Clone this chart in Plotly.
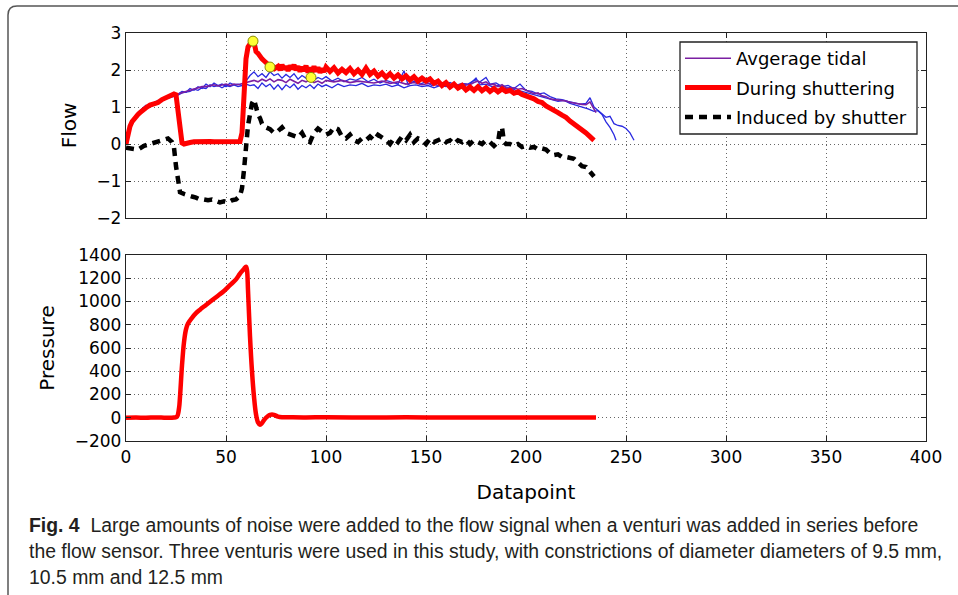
import plotly.graph_objects as go

# ---------------- data ----------------
red_x = [0,1,2,3,4,5,6,7,8,9,10,12,14,16,18,20,22,24,25,26,27,28,29,30,32,34,36,38,40,42,44,46,48,50,52,54,56,57,58,59,60,61,62,63,64,65,66,67,68,69,70,71,72,73,74,75,76,77,78,79,80,81,82,83,84,85,86,87,88,89,90,91,92,93,94,95,96,97,98,99,100,102,104,106,108,110,112,114,116,118,120,122,124,126,128,130,132,134,136,138,140,142,144,146,148,150,152,154,156,158,160,162,164,166,168,170,172,174,176,178,180,182,184,186,188,190,192,194,196,198,200,202,204,206,208,210,212,214,216,218,220,222,224,226,228,230,232,234]
red_y = [0.0,0.3,0.48,0.6,0.68,0.75,0.8,0.85,0.9,0.95,0.98,1.05,1.08,1.12,1.2,1.25,1.3,1.35,1.33,0.9,0.2,0.03,0.0,0.02,0.04,0.06,0.07,0.06,0.06,0.07,0.06,0.06,0.06,0.06,0.06,0.06,0.06,0.07,0.3,1.5,2.3,2.62,2.72,2.78,2.75,2.5,2.45,2.35,2.3,2.25,2.2,2.12,2.08,2.05,2.03,2.05,2.1,2.0,2.14,2.02,2.1,1.98,2.12,2.03,2.14,2.0,2.1,1.96,2.08,1.98,2.12,1.93,2.06,1.94,2.1,1.96,2.07,1.93,2.04,1.95,2.08,1.96,2.06,1.92,2.02,1.93,2.04,1.9,2.0,1.88,2.05,1.88,1.97,1.83,1.92,1.8,1.9,1.78,1.87,1.76,1.84,1.73,1.82,1.7,1.78,1.7,1.76,1.64,1.7,1.58,1.66,1.54,1.62,1.51,1.58,1.46,1.54,1.45,1.55,1.44,1.52,1.42,1.5,1.41,1.49,1.42,1.45,1.37,1.41,1.34,1.31,1.25,1.22,1.15,1.12,1.03,0.98,0.92,0.85,0.78,0.72,0.62,0.55,0.47,0.38,0.3,0.2,0.1]

avg_x = [0,2,4,6,8,10,12,14,16,18,20,22,24,26,28,30,32,34,36,38,40,42,44,46,48,50,52,54,56,58,60,62,64,66,68,70,72,74,76,78,80,82,84,86,88,90,92,94,96,98,100,104,108,112,116,120,124,128,132,136,140,144,148,152,156,160,164,168,172,174,176,178,180,182,184,186,188,190,192,194,196,198,200,202,204,206,208,210,212,214,216,218,220,222,224,226,228,230,232,233,235]
avg_y = [0.0,0.45,0.65,0.8,0.9,0.98,1.05,1.1,1.15,1.2,1.25,1.28,1.32,1.36,1.4,1.42,1.45,1.48,1.5,1.55,1.55,1.58,1.6,1.57,1.6,1.62,1.58,1.62,1.6,1.63,1.65,1.68,1.72,1.68,1.75,1.7,1.76,1.68,1.74,1.72,1.66,1.75,1.7,1.64,1.72,1.68,1.74,1.66,1.7,1.64,1.72,1.68,1.72,1.66,1.7,1.68,1.65,1.7,1.64,1.68,1.62,1.66,1.6,1.64,1.58,1.62,1.58,1.62,1.6,1.66,1.7,1.64,1.68,1.6,1.62,1.55,1.6,1.52,1.5,1.52,1.48,1.5,1.46,1.4,1.36,1.38,1.3,1.28,1.22,1.2,1.19,1.18,1.16,1.13,1.1,1.09,1.07,1.06,1.14,1.04,0.85]

blue1_x = [0,2,4,6,8,10,12,14,16,18,20,22,24,26,28,30,32,34,36,38,40,42,44,46,48,50,52,54,56,58,60,62,64,66,68,70,72,74,76,78,80,82,84,86,88,90,92,94,96,98,100,103,106,109,112,115,118,121,124,127,130,133,136,139,141,144,147,150,153,156,159,162,165,168,171,174,177,180,182,185,188,191,194,197,200,203,206,209,212,215,218,221,224,227,230,232,234,236,238,240,242,244,246,248,250,252,254]
blue1_y = [0.0,0.5,0.7,0.85,0.95,1.05,1.0,1.12,1.18,1.15,1.28,1.3,1.38,1.35,1.42,1.4,1.5,1.45,1.55,1.5,1.62,1.55,1.65,1.58,1.62,1.55,1.65,1.6,1.62,1.58,1.7,1.85,1.95,1.82,1.9,1.8,1.95,1.85,1.9,1.78,1.88,1.8,1.9,1.75,1.85,1.78,1.88,1.72,1.8,1.75,1.82,1.7,1.78,1.68,1.76,1.72,1.8,1.68,1.75,1.65,1.72,1.68,1.62,1.98,1.6,1.7,1.62,1.68,1.58,1.65,1.6,1.66,1.58,1.64,1.62,1.72,1.68,1.8,1.62,1.65,1.55,1.58,1.5,1.62,1.45,1.42,1.35,1.38,1.28,1.22,1.2,1.15,1.12,1.08,1.1,1.25,1.0,0.9,0.82,0.72,0.75,0.55,0.5,0.48,0.42,0.3,0.1]

blue2_x = [0,2,4,6,8,10,12,14,16,18,20,22,24,26,28,30,32,34,36,38,40,42,44,46,48,50,52,54,56,58,60,62,64,66,68,70,72,74,76,78,80,82,84,86,88,90,92,94,96,98,100,103,106,109,112,115,118,121,124,127,130,133,136,139,142,145,148,151,154,157,160,163,166,169,172,175,177,180,183,186,189,192,195,198,201,204,207,210,213,216,219,222,225,228,231,234,236,238,240,242,244,245]
blue2_y = [0.0,0.4,0.62,0.78,0.88,0.95,1.02,1.05,1.12,1.18,1.22,1.25,1.3,1.32,1.38,1.4,1.42,1.48,1.45,1.52,1.5,1.6,1.55,1.58,1.52,1.58,1.55,1.6,1.55,1.58,1.62,1.58,1.6,1.5,1.65,1.55,1.62,1.48,1.6,1.47,1.6,1.52,1.62,1.48,1.58,1.52,1.6,1.5,1.62,1.55,1.6,1.52,1.62,1.55,1.6,1.58,1.64,1.55,1.6,1.58,1.62,1.55,1.6,1.52,1.58,1.6,1.55,1.58,1.52,1.58,1.55,1.6,1.55,1.58,1.62,1.78,1.6,1.62,1.55,1.58,1.5,1.52,1.45,1.42,1.38,1.32,1.3,1.25,1.2,1.15,1.18,1.1,1.05,1.02,0.95,0.88,0.9,0.8,0.6,0.45,0.25,0.1]

ind_x = [0,3,6,9,12,15,18,21,23,24,25,26,27,29,31,33,35,37,39,41,43,45,47,49,51,53,55,57,58,59,60,61,62,63,64,65,66,67,68,69,70,72,74,76,78,80,82,84,86,88,90,92,94,96,98,100,102,104,106,108,110,112,114,116,118,120,122,124,126,128,130,132,134,136,138,140,142,144,146,148,150,152,154,156,158,160,162,164,166,168,170,172,174,176,178,180,182,184,186,187,188,189,190,192,194,196,198,200,202,204,206,208,210,212,214,216,218,220,222,224,226,228,230,232,234]
ind_y = [-0.1,-0.12,-0.15,-0.05,0.0,0.05,0.12,0.15,0.05,-0.1,-0.6,-1.0,-1.3,-1.35,-1.4,-1.42,-1.45,-1.5,-1.5,-1.52,-1.5,-1.55,-1.58,-1.55,-1.58,-1.52,-1.5,-1.4,-1.2,-0.7,0.0,0.5,0.8,1.1,1.2,0.95,0.8,0.7,0.55,0.5,0.45,0.4,0.3,0.35,0.45,0.3,0.25,0.2,0.18,0.3,0.1,0.05,0.3,0.42,0.35,0.25,0.3,0.45,0.4,0.2,0.15,0.25,0.1,0.05,0.15,0.1,0.2,0.1,0.25,0.18,0.1,0.0,0.15,0.05,0.2,0.1,0.25,0.05,0.15,0.1,0.0,0.15,0.05,0.1,0.15,0.05,0.1,0.0,0.1,0.05,0.12,0.0,0.1,0.05,0.0,0.1,0.05,-0.05,0.05,0.4,0.45,0.05,0.0,0.0,-0.05,0.0,-0.08,-0.05,-0.1,-0.08,-0.15,-0.12,-0.15,-0.25,-0.3,-0.28,-0.35,-0.35,-0.38,-0.4,-0.5,-0.6,-0.62,-0.75,-0.88]

peak_x = [63.5, 72, 92.5]
peak_y = [2.78, 2.08, 1.8]

pres_x = [0,5,10,15,20,24,25.5,26.5,27,28,29,30,31,33,35,37,40,43,46,49,52,55,57,59,60,60.5,61,62,63,64,65,66,67,68,69,70,71,72,73,74,76,78,80,90,100,120,140,160,180,200,220,235]
pres_y = [0,2,0,3,0,2,10,80,180,450,650,760,810,860,900,930,970,1010,1050,1090,1140,1190,1240,1280,1300,1270,1100,700,400,180,30,-40,-60,-45,-20,0,15,25,28,25,10,5,5,3,5,2,4,2,3,2,3,2]

x_ticks = [0, 50, 100, 150, 200, 250, 300, 350, 400]
flow_ticks = [-2, -1, 0, 1, 2, 3]
pres_ticks = [-200, 0, 200, 400, 600, 800, 1000, 1200, 1400]

caption_lines = [
    "<b>Fig. 4</b>  Large amounts of noise were added to the flow signal when a venturi was added in series before",
    "the flow sensor. Three venturis were used in this study, with constrictions of diameter diameters of 9.5 mm,",
    "10.5 mm and 12.5 mm",
]

# ---------------- figure ----------------
W, H = 958, 595
L, R, T, B = 126, 32, 33, 154
pw, ph = W - L - R, H - T - B

def px(x):
    return (x - L) / pw

def py(y):
    return (H - B - y) / ph

fig = go.Figure()

fig.add_trace(go.Scatter(x=blue1_x, y=blue1_y, mode="lines", line=dict(color="#2a2ae0", width=1.3),
                         showlegend=False, xaxis="x", yaxis="y"))
fig.add_trace(go.Scatter(x=blue2_x, y=blue2_y, mode="lines", line=dict(color="#2a2ae0", width=1.3),
                         showlegend=False, xaxis="x", yaxis="y"))
fig.add_trace(go.Scatter(x=avg_x, y=avg_y, mode="lines", line=dict(color="#7b1fa2", width=1.6),
                         name="Avgerage tidal", legendgroup="a", xaxis="x", yaxis="y"))
fig.add_trace(go.Scatter(x=red_x, y=red_y, mode="lines", line=dict(color="#ff0000", width=5),
                         name="During shuttering", legendgroup="b", xaxis="x", yaxis="y"))
fig.add_trace(go.Scatter(x=ind_x, y=ind_y, mode="lines", line=dict(color="#000000", width=4.5, dash="8px,6px"),
                         name="Induced by shutter", legendgroup="c", xaxis="x", yaxis="y"))
fig.add_trace(go.Scatter(x=peak_x, y=peak_y, mode="markers",
                         marker=dict(color="#ffff33", size=10, line=dict(color="#8a8a00", width=1)),
                         showlegend=False, xaxis="x", yaxis="y"))
fig.add_trace(go.Scatter(x=pres_x, y=pres_y, mode="lines", line=dict(color="#ff0000", width=4.5, shape="spline"),
                         showlegend=False, xaxis="x2", yaxis="y2"))

tickfont = dict(family="DejaVu Sans", size=17, color="#000000")
titlefont = dict(family="DejaVu Sans", size=20, color="#000000")
common = dict(showline=True, linecolor="#222222", linewidth=1.3, mirror="allticks",
              ticks="inside", ticklen=5, tickcolor="#222222", tickwidth=1,
              showgrid=True, gridcolor="#666666", gridwidth=1, griddash="1px,3px",
              zeroline=False, tickfont=tickfont)

fig.update_layout(
    width=W, height=H,
    margin=dict(l=L, r=R, t=T, b=B),
    paper_bgcolor="white", plot_bgcolor="white",
    xaxis=dict(domain=[0, 1], range=[0, 400], tickvals=x_ticks, showticklabels=False,
               anchor="y", **common),
    yaxis=dict(domain=[py(218), 1], range=[-2, 3], tickvals=flow_ticks,
               title=dict(text="Flow", font=titlefont, standoff=14), anchor="x", **common),
    xaxis2=dict(domain=[0, 1], range=[0, 400], tickvals=x_ticks, anchor="y2",
                title=dict(text="Datapoint", font=titlefont, standoff=19), **common),
    yaxis2=dict(domain=[0, py(255)], range=[-200, 1400], tickvals=pres_ticks,
                title=dict(text="Pressure", font=titlefont, standoff=14), anchor="x2", **common),
    legend=dict(x=px(680), y=py(40), xanchor="left", yanchor="top",
                borderwidth=0, bgcolor="rgba(0,0,0,0)",
                font=dict(family="DejaVu Sans", size=18, color="#000000"),
                traceorder="grouped", tracegroupgap=3, itemwidth=46),
    showlegend=True,
)

# legend frame (white box with black border)
fig.add_shape(type="rect", xref="paper", yref="paper",
              x0=px(680), x1=px(917), y0=py(134), y1=py(42),
              line=dict(color="#222222", width=1.3), fillcolor="white", layer="above")

# caption
cap_y = [525, 551, 577]
for line, yy in zip(caption_lines, cap_y):
    fig.add_annotation(text=line, xref="paper", yref="paper", x=px(27), y=py(yy),
                       xanchor="left", yanchor="middle", showarrow=False,
                       font=dict(family="Liberation Sans", size=19.4, color="#231f20"))

# frame around figure + caption (rounded box)
x0, y0, x1, r = px(8), py(6), px(980), 9
rx, ry = r / pw, r / ph
path = (f"M {x0},{py(598)} L {x0},{y0 - ry} Q {x0},{y0} {x0 + rx},{y0} L {x1},{y0}")
fig.add_shape(type="path", path=path, xref="paper", yref="paper",
              line=dict(color="#555555", width=1.5))

fig.write_html("out.html")
